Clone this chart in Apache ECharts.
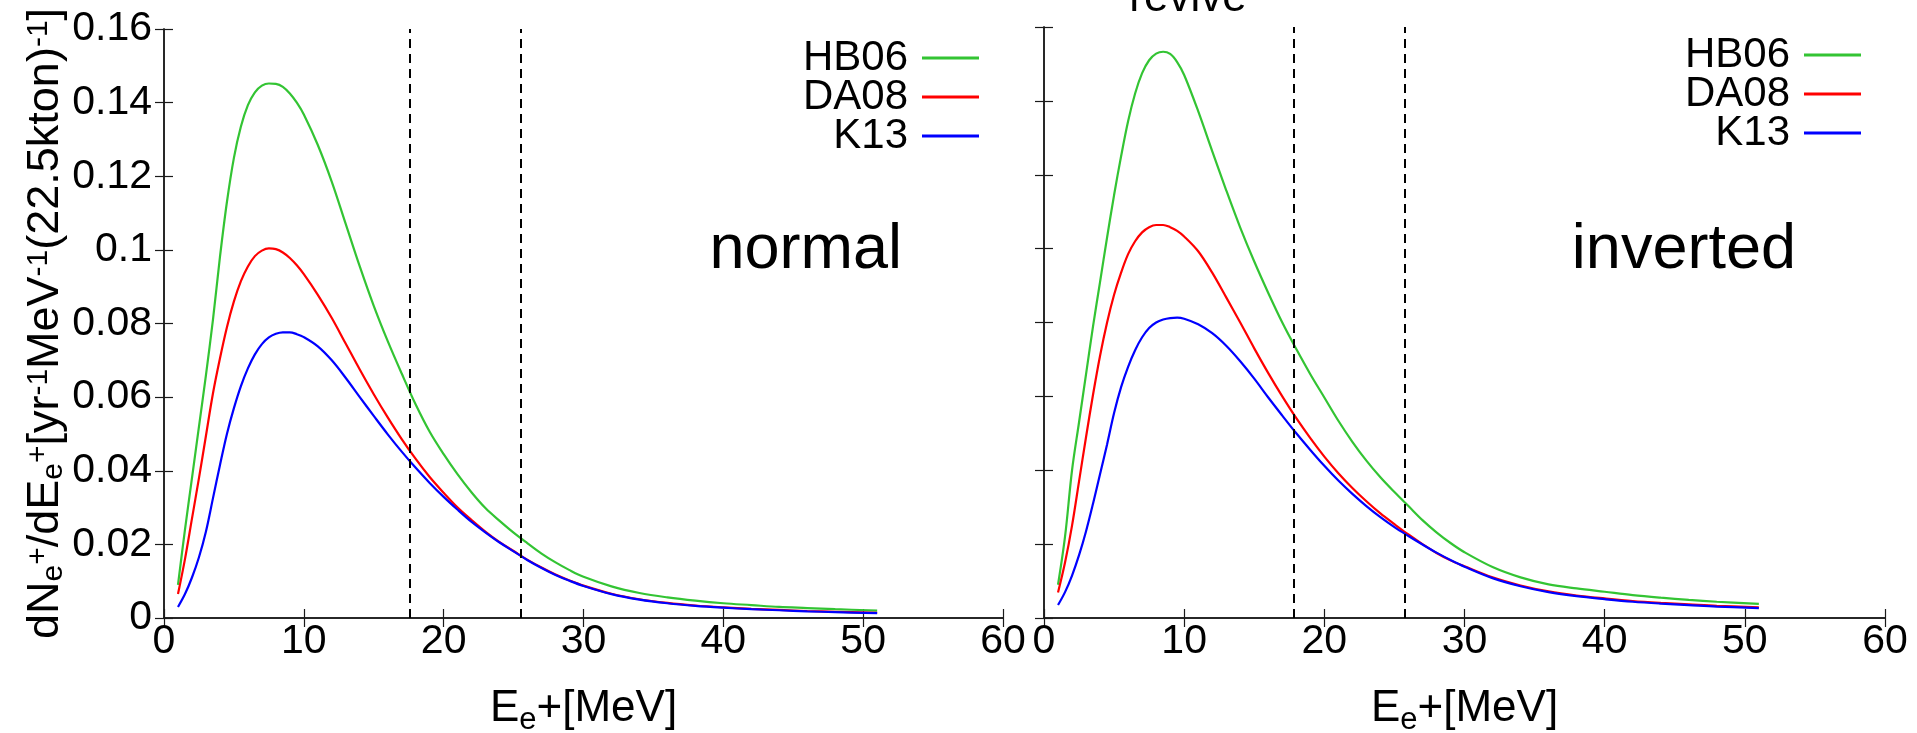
<!DOCTYPE html>
<html>
<head>
<meta charset="utf-8">
<script src="https://cdn.jsdelivr.net/npm/echarts@6/dist/echarts.min.js"></script>
<style>
html,body{margin:0;padding:0;background:#fff;}
#chart{width:1917px;height:733px;}
</style>
</head>
<body>
<div id="chart"></div>
<script>
// ---------- data ----------
const energies = [1, 1.5, 2, 2.5, 3, 3.5, 4, 4.5, 5, 5.5, 6, 6.5, 7, 7.5, 8, 8.5, 9, 9.5,
  10, 11, 12, 13, 14, 15, 16, 17, 18, 19, 20, 21, 22, 23, 24, 25, 26, 27, 28, 29, 30,
  32, 34, 36, 38, 40, 42, 44, 46, 48, 51];

const seriesNames = ['HB06', 'DA08', 'K13'];

// normal hierarchy
const hb06Normal = [0.009, 0.024, 0.038, 0.052, 0.066, 0.081, 0.098, 0.113, 0.125, 0.1335, 0.1393, 0.1428, 0.1446, 0.1452, 0.1451, 0.1443, 0.1425, 0.1400,
  0.1368, 0.1285, 0.1185, 0.1070, 0.0955, 0.0848, 0.0752, 0.0664, 0.0580, 0.0506, 0.0445, 0.0390, 0.0341, 0.0298, 0.0264, 0.0232, 0.0203, 0.0175, 0.0151, 0.0130, 0.0112,
  0.0086, 0.0068, 0.0056, 0.0047, 0.0040, 0.0035, 0.0030, 0.0027, 0.0024, 0.0020];
const da08Normal = [0.0065, 0.016, 0.027, 0.038, 0.0495, 0.061, 0.0705, 0.079, 0.086, 0.0915, 0.0955, 0.0983, 0.0998, 0.1004, 0.1002, 0.0993, 0.0978, 0.0958,
  0.0934, 0.0878, 0.0815, 0.0745, 0.0675, 0.0608, 0.0545, 0.0486, 0.0432, 0.0383, 0.0340, 0.0300, 0.0266, 0.0234, 0.0206, 0.0182, 0.0158, 0.0137, 0.0118, 0.0102, 0.0088,
  0.0066, 0.0051, 0.0041, 0.0034, 0.0029, 0.0025, 0.0022, 0.0019, 0.0017, 0.0014];
const k13Normal = [0.003, 0.0065, 0.011, 0.0165, 0.0235, 0.0325, 0.0415, 0.050, 0.057, 0.063, 0.0678, 0.0716, 0.0744, 0.0762, 0.0772, 0.0776, 0.0776, 0.0771,
  0.0763, 0.0738, 0.0700, 0.0652, 0.0600, 0.0549, 0.0499, 0.0452, 0.0408, 0.0367, 0.0329, 0.0294, 0.0261, 0.0232, 0.0205, 0.0181, 0.0157, 0.0136, 0.0117, 0.0101, 0.0087,
  0.0065, 0.0050, 0.0040, 0.0033, 0.0028, 0.0024, 0.0021, 0.0018, 0.0016, 0.0013];

// inverted hierarchy
const hb06Inverted = [0.009, 0.022, 0.040, 0.053, 0.066, 0.079, 0.091, 0.103, 0.1145, 0.125, 0.1345, 0.142, 0.1475, 0.151, 0.1528, 0.1533, 0.1527, 0.1505,
  0.1470, 0.1372, 0.1264, 0.1158, 0.1057, 0.0965, 0.0880, 0.0800, 0.0728, 0.0660, 0.0597, 0.0534, 0.0477, 0.0426, 0.0381, 0.0341, 0.0303, 0.0265, 0.0232, 0.0203, 0.0178,
  0.0138, 0.0110, 0.0091, 0.0080, 0.0071, 0.0062, 0.0055, 0.0049, 0.0044, 0.0038];
const da08Inverted = [0.0069, 0.015, 0.025, 0.037, 0.049, 0.0605, 0.071, 0.080, 0.0875, 0.0935, 0.0985, 0.102, 0.1044, 0.1058, 0.1064, 0.1064, 0.1058, 0.1048,
  0.1033, 0.0993, 0.0935, 0.0868, 0.0800, 0.0730, 0.0663, 0.0600, 0.0541, 0.0487, 0.0437, 0.0392, 0.0352, 0.0316, 0.0283, 0.0254, 0.0226, 0.0200, 0.0176, 0.0156, 0.0140,
  0.0110, 0.0088, 0.0072, 0.0061, 0.0053, 0.0046, 0.0041, 0.0037, 0.0033, 0.0029];
const k13Inverted = [0.0035, 0.007, 0.0115, 0.017, 0.0235, 0.031, 0.039, 0.047, 0.0555, 0.0625, 0.068, 0.0725, 0.076, 0.0785, 0.080, 0.0808, 0.0812, 0.0813,
  0.0810, 0.0795, 0.0771, 0.0737, 0.0695, 0.0648, 0.0597, 0.0548, 0.0500, 0.0455, 0.0412, 0.0372, 0.0336, 0.0303, 0.0273, 0.0246, 0.0222, 0.0199, 0.0177, 0.0157, 0.0139,
  0.0108, 0.0086, 0.0070, 0.0059, 0.0051, 0.0044, 0.0039, 0.0035, 0.0031, 0.0027];

// energy window cuts (dashed lines)
const cutsNormal = [17.6, 25.5];
const cutsInverted = [17.8, 25.75];

const xTickLabels = ['0', '10', '20', '30', '40', '50', '60'];
const yTickLabels = ['0', '0.02', '0.04', '0.06', '0.08', '0.1', '0.12', '0.14', '0.16'];

const panelLabels = ['normal', 'inverted'];
const topCutText = 'revive';

// ---------- styling ----------
const FONT = "'Liberation Sans', Arial, Helvetica, sans-serif";
const colors = ['#33c433', '#ff0000', '#0000ff'];
const axisColor = '#1a1a1a';

function pairs(arr) { return energies.map((e, i) => [e, arr[i]]); }

function xAxisPair(grid) {
  const common = {
    type: 'value', gridIndex: grid, min: 0, max: 60, interval: 10,
    axisLine: { show: true, lineStyle: { color: axisColor, width: 1.5 } },
    axisTick: { show: true, inside: true, length: 9, lineStyle: { color: axisColor, width: 1.2 } },
    splitLine: { show: false }
  };
  return [
    Object.assign({}, common, {
      position: 'bottom',
      axisLabel: {
        show: true, margin: 3, fontSize: 41, color: '#000', fontFamily: FONT,
        showMinLabel: true, showMaxLabel: true,
        formatter: (v, i) => xTickLabels[i]
      },
      name: '{m|E}{sub|e}{m|+[MeV]}',
      nameLocation: 'middle',
      nameGap: 64,
      nameTextStyle: {
        rich: {
          m: { fontSize: 44, lineHeight: 54, fontFamily: FONT, color: '#000', verticalAlign: 'middle' },
          sub: { fontSize: 31, lineHeight: 31, fontFamily: FONT, color: '#000', verticalAlign: 'bottom' }
        }
      }
    }),
    Object.assign({}, common, { position: 'top', axisLabel: { show: false } })
  ];
}

function yAxisPair(grid, withLabels) {
  const common = {
    type: 'value', gridIndex: grid, min: 0, max: 0.16, interval: 0.02,
    axisLine: { show: true, lineStyle: { color: axisColor, width: 1.5 } },
    axisTick: { show: true, inside: true, length: 9, lineStyle: { color: axisColor, width: 1.2 } },
    splitLine: { show: false }
  };
  const left = Object.assign({}, common, {
    position: 'left',
    axisLabel: withLabels ? {
      show: true, margin: 12, fontSize: 41, color: '#000', fontFamily: FONT,
      showMinLabel: true, showMaxLabel: true,
      formatter: (v, i) => yTickLabels[i]
    } : { show: false }
  });
  if (withLabels) {
    left.name = '{m|dN}{sub|e}{sup|+}{m|/dE}{sub|e}{sup|+}{m|[yr}{sup|-1}{m|MeV}{sup|-1}{m|(22.5kton)}{sup|-1}{m|]}';
    left.nameLocation = 'middle';
    left.nameRotate = 90;
    left.nameGap = 92;
    left.nameTextStyle = {
      rich: {
        m: { fontSize: 45, lineHeight: 45, fontFamily: FONT, color: '#000', verticalAlign: 'middle' },
        sub: { fontSize: 30, lineHeight: 30, fontFamily: FONT, color: '#000', verticalAlign: 'bottom' },
        sup: { fontSize: 30, lineHeight: 30, fontFamily: FONT, color: '#000', verticalAlign: 'top' }
      },
      lineHeight: 62
    };
  }
  return [left, Object.assign({}, common, { position: 'right', axisLabel: { show: false } })];
}

function makeSeries(name, data, xi, yi, color, cuts) {
  const s = {
    name: name, type: 'line', xAxisIndex: xi, yAxisIndex: yi,
    data: pairs(data), smooth: 0.35, showSymbol: false, symbol: 'none',
    lineStyle: { color: color, width: 2.2 }, itemStyle: { color: color },
    animation: false, silent: true
  };
  if (cuts) {
    s.markLine = {
      silent: true, symbol: ['none', 'none'], animation: false,
      label: { show: false },
      lineStyle: { type: [9, 6], color: '#000', width: 2 },
      data: cuts.map(v => ({ xAxis: v }))
    };
  }
  return s;
}

const xa0 = xAxisPair(0), xa1 = xAxisPair(1);
const ya0 = yAxisPair(0, true), ya1 = yAxisPair(1, false);

const legendCommon = {
  data: seriesNames, orient: 'vertical', align: 'right', icon: 'rect',
  itemWidth: 57, itemHeight: 3, itemGap: -3, padding: 0,
  selectedMode: false,
  textStyle: { fontSize: 42, fontFamily: FONT, color: '#000', padding: [0, 9, 0, 0] }
};

const option = {
  backgroundColor: '#fff',
  animation: false,
  grid: [
    { left: 164, top: 29, width: 839, height: 589, show: false, containLabel: false, outerBoundsMode: 'none' },
    { left: 1044, top: 27, width: 841, height: 591, show: false, containLabel: false, outerBoundsMode: 'none' }
  ],
  xAxis: [xa0[0], xa0[1], xa1[0], xa1[1]],
  yAxis: [ya0[0], ya0[1], ya1[0], ya1[1]],
  legend: [
    Object.assign({}, legendCommon, { right: 938, top: 37 }),
    Object.assign({}, legendCommon, { right: 56, top: 34 })
  ],
  series: [
    makeSeries(seriesNames[0], hb06Normal, 0, 0, colors[0], cutsNormal),
    makeSeries(seriesNames[1], da08Normal, 0, 0, colors[1]),
    makeSeries(seriesNames[2], k13Normal, 0, 0, colors[2]),
    makeSeries(seriesNames[0], hb06Inverted, 2, 2, colors[0], cutsInverted),
    makeSeries(seriesNames[1], da08Inverted, 2, 2, colors[1]),
    makeSeries(seriesNames[2], k13Inverted, 2, 2, colors[2])
  ],
  graphic: [
    { type: 'text', x: 902, y: 251, style: { text: panelLabels[0], fontSize: 63, fontFamily: FONT, fill: '#000', align: 'right', verticalAlign: 'middle' } },
    { type: 'text', x: 1796, y: 251, style: { text: panelLabels[1], fontSize: 63, fontFamily: FONT, fill: '#000', align: 'right', verticalAlign: 'middle' } },
    { type: 'text', x: 1188, y: -1, style: { text: topCutText, fontSize: 44, fontFamily: FONT, fill: '#000', align: 'center', verticalAlign: 'middle' } }
  ]
};

const chart = echarts.init(document.getElementById('chart'), null, { renderer: 'canvas' });
chart.setOption(option);
</script>
</body>
</html>
